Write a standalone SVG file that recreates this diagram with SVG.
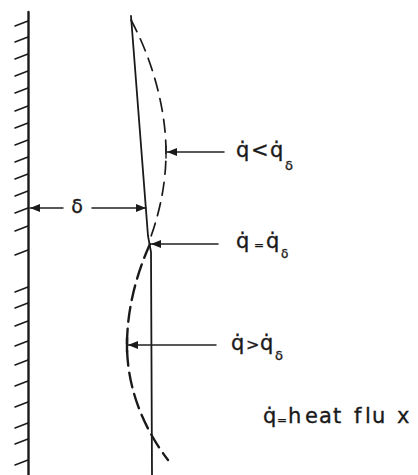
<svg xmlns="http://www.w3.org/2000/svg" width="418" height="475" viewBox="0 0 418 475">
<style>
.ln{fill:none;stroke:#1a1a1a;stroke-linecap:round}
.wall{stroke-width:2.4}
.hatch{stroke-width:1.5}
.film{stroke-width:1.8}
.dashA{stroke-width:1.7;stroke-dasharray:13 8}
.dashB{stroke-width:2.4;stroke-dasharray:15 7}
.arr{stroke-width:1.5;stroke:#222}
.t{font-family:"DejaVu Sans","Liberation Sans",sans-serif;fill:#1a1a1a;stroke:#1a1a1a;stroke-width:0.35}
.big{font-size:21px}
.sub{font-size:13px}
</style>
<defs>
<marker id="ah" viewBox="0 0 10 8" refX="10" refY="4" markerWidth="10" markerHeight="8" markerUnits="userSpaceOnUse" orient="auto">
<path d="M0,0 L10,4 L0,8 Z" fill="#1a1a1a"/>
</marker>
</defs>
<g id="wall">
<line class="ln wall" x1="28.5" y1="12" x2="28.5" y2="475"/>
<path class="ln hatch" d="M15,26 L28,21 M15,42 L28,37 M15,59 L28,54 M15,76 L28,71 M15,93 L28,88 M15,111 L28,106 M15,128 L28,123 M15,145 L28,140 M15,162 L28,157 M15,179 L28,174 M15,196 L28,191 M15,213 L28,208 M15,231 L28,226 M15,255 L28,250 M15,292 L28,287 M15,308 L28,303 M15,326 L28,321 M15,346 L28,341 M15,365 L28,360 M15,386 L28,381 M15,407 L28,402 M15,428 L28,423 M15,444 L28,439 M15,465 L28,460"/>
</g>
<g id="film">
<polyline class="ln film" points="131,16 148,236 151,252 152,475"/>
</g>
<g id="profile-low-flux">
<path class="ln dashA" d="M131,20 C150,55 166,105 166,152 C166,190 157,220 149,242"/>
<line class="ln arr" x1="166" y1="146" x2="166" y2="158"/>
</g>
<g id="profile-high-flux">
<path class="ln dashB" d="M150,244 C136,275 127,310 127,345 C127,390 145,430 168,460"/>
<line class="ln wall" x1="127" y1="338" x2="127" y2="352"/>
</g>
<g id="connectors">
<line class="ln arr" x1="224" y1="152" x2="167" y2="152" marker-end="url(#ah)"/>
<line class="ln arr" x1="218" y1="244" x2="151" y2="244" marker-end="url(#ah)"/>
<line class="ln arr" x1="216" y1="345" x2="128" y2="345" marker-end="url(#ah)"/>
<line class="ln arr" x1="63" y1="208" x2="30" y2="208" marker-end="url(#ah)"/>
<line class="ln arr" x1="92" y1="208" x2="146" y2="208" marker-end="url(#ah)"/>
</g>
<g id="label-delta">
<text class="t" x="77" y="213" font-size="19" text-anchor="middle">δ</text>
</g>
<g id="label-less">
<text class="t big" y="157"><tspan x="236">q̇</tspan><tspan x="251">&lt;</tspan><tspan x="270">q̇</tspan><tspan x="285" y="170" class="sub">δ</tspan></text>
</g>
<g id="label-equal">
<text class="t big" y="248"><tspan x="236">q̇</tspan><tspan x="254" y="249" font-size="12">=</tspan><tspan x="266" y="248">q̇</tspan><tspan x="281" y="258" font-size="12">δ</tspan></text>
</g>
<g id="label-greater">
<text class="t big" y="350"><tspan x="231">q̇</tspan><tspan x="246" font-size="16">&gt;</tspan><tspan x="260">q̇</tspan><tspan x="275" y="360" class="sub">δ</tspan></text>
</g>
<g id="label-legend">
<text class="t big" y="423"><tspan x="263">q̇</tspan><tspan x="277" y="424" font-size="12">=</tspan><tspan x="288 305 319 333" y="423">heat</tspan><tspan x="354 365 372 397">flux</tspan></text>
</g>
</svg>
